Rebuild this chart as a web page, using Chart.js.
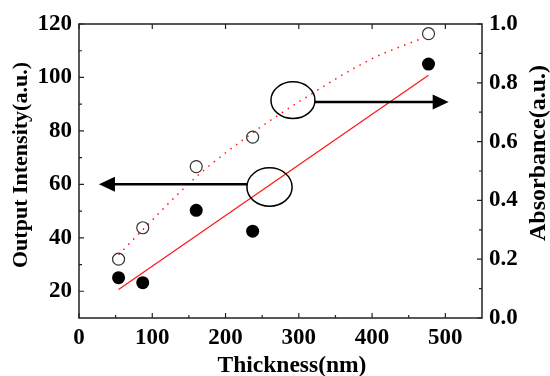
<!DOCTYPE html>
<html>
<head>
<meta charset="utf-8">
<script src="https://cdn.jsdelivr.net/npm/chart.js@4.4.1/dist/chart.umd.min.js"></script>
<style>
  html, body { margin: 0; padding: 0; background: #fff; }
  #wrap { width: 550px; height: 376px; }
</style>
</head>
<body>
<div id="wrap"><canvas id="thickness_chart"></canvas></div>
<script>
// measured points
const thickness = [54, 87, 160, 237, 477];
const output_intensity = [25.1, 23.2, 50.3, 42.5, 105];
const absorbance = [0.20, 0.307, 0.515, 0.615, 0.967];

// fit lines
const intensity_fit_x = [54, 477];
const intensity_fit_y = [20.7, 100.8];
const absorbance_fit_x = [54, 87, 160, 237, 300, 400, 467];
const absorbance_fit_y = [0.215, 0.30, 0.48, 0.63, 0.735, 0.882, 0.95];

// tick labels
const x_ticks = [0, 100, 200, 300, 400, 500];
const left_ticks = [20, 40, 60, 80, 100, 120];
const right_ticks = [0, 0.2, 0.4, 0.6, 0.8, 1.0];

const font_family = "'Liberation Serif', 'Times New Roman', serif";

const pairs = (xs, ys) => xs.map((x, i) => ({x: x, y: ys[i]}));

const midpoints = arr => arr.slice(1).map((v, i) => (v + arr[i]) / 2);

const frame_plugin = {
  id: 'frame_plugin',
  afterDatasetsDraw(chart) {
    const ctx = chart.ctx;
    const a = chart.chartArea;
    const sx = chart.scales.x, sl = chart.scales.y, sr = chart.scales.y2;
    ctx.save();
    ctx.strokeStyle = '#222';
    ctx.lineWidth = 1.5;
    ctx.strokeRect(a.left, a.top, a.right - a.left, a.bottom - a.top);

    ctx.lineWidth = 1.2;
    ctx.beginPath();
    x_ticks.forEach(v => {
      const px = sx.getPixelForValue(v);
      ctx.moveTo(px, a.bottom); ctx.lineTo(px, a.bottom - 5);
      ctx.moveTo(px, a.top); ctx.lineTo(px, a.top + 5);
    });
    midpoints(x_ticks).forEach(v => {
      const px = sx.getPixelForValue(v);
      ctx.moveTo(px, a.bottom); ctx.lineTo(px, a.bottom - 3);
    });
    left_ticks.forEach(v => {
      const py = sl.getPixelForValue(v);
      ctx.moveTo(a.left, py); ctx.lineTo(a.left + 5, py);
    });
    midpoints(left_ticks).forEach(v => {
      const py = sl.getPixelForValue(v);
      ctx.moveTo(a.left, py); ctx.lineTo(a.left + 3, py);
    });
    right_ticks.forEach(v => {
      const py = sr.getPixelForValue(v);
      ctx.moveTo(a.right, py); ctx.lineTo(a.right - 5, py);
    });
    midpoints(right_ticks).forEach(v => {
      const py = sr.getPixelForValue(v);
      ctx.moveTo(a.right, py); ctx.lineTo(a.right - 3, py);
    });
    ctx.stroke();

    // annotation ellipses and arrows
    ctx.strokeStyle = '#000';
    ctx.fillStyle = '#000';
    ctx.lineWidth = 1.5;
    const e1x = sx.getPixelForValue(292), e1y = sr.getPixelForValue(0.741);
    ctx.beginPath();
    ctx.ellipse(e1x, e1y, 22, 18.3, 0, 0, Math.PI * 2);
    ctx.stroke();
    const e2x = sx.getPixelForValue(260), e2y = sl.getPixelForValue(59);
    ctx.beginPath();
    ctx.ellipse(e2x, e2y, 22.6, 19.2, 0, 0, Math.PI * 2);
    ctx.stroke();

    const arrow = (x0, x1, y) => {
      const dir = Math.sign(x1 - x0);
      ctx.lineWidth = 2.5;
      ctx.beginPath();
      ctx.moveTo(x0, y);
      ctx.lineTo(x1 - dir * 14, y);
      ctx.stroke();
      ctx.beginPath();
      ctx.moveTo(x1, y);
      ctx.lineTo(x1 - dir * 16, y - 7.5);
      ctx.lineTo(x1 - dir * 16, y + 7.5);
      ctx.closePath();
      ctx.fill();
    };
    arrow(sx.getPixelForValue(321.5), sx.getPixelForValue(504.5), sr.getPixelForValue(0.735));
    arrow(sx.getPixelForValue(229.6), sx.getPixelForValue(27.2), sl.getPixelForValue(60));

    // axis titles
    ctx.fillStyle = '#000';
    ctx.textAlign = 'center';
    ctx.textBaseline = 'alphabetic';
    ctx.font = 'bold 23.5px ' + font_family;
    ctx.fillText('Thickness(nm)', 292, 372);

    ctx.font = 'bold 22px ' + font_family;
    ctx.save();
    ctx.translate(26.7, 165);
    ctx.rotate(-Math.PI / 2);
    ctx.fillText('Output Intensity(a.u.)', 0, 0);
    ctx.restore();

    ctx.font = 'bold 24px ' + font_family;
    ctx.save();
    ctx.translate(544.5, 153);
    ctx.rotate(-Math.PI / 2);
    ctx.fillText('Absorbance(a.u.)', 0, 0);
    ctx.restore();

    ctx.restore();
  }
};

const tick_font = {family: font_family, size: 23, weight: 'bold'};

const thickness_config = {
  type: 'scatter',
  data: {
    datasets: [
      {
        data: pairs(intensity_fit_x, intensity_fit_y),
        yAxisID: 'y',
        showLine: true,
        borderColor: 'rgb(255, 20, 20)',
        borderWidth: 1.2,
        pointRadius: 0,
        order: 3
      },
      {
        data: pairs(absorbance_fit_x, absorbance_fit_y),
        yAxisID: 'y2',
        showLine: true,
        borderColor: 'rgb(255, 20, 20)',
        borderWidth: 1.5,
        borderDash: [1.5, 5.5],
        cubicInterpolationMode: 'monotone',
        pointRadius: 0,
        order: 3
      },
      {
        data: pairs(thickness, output_intensity),
        yAxisID: 'y',
        pointRadius: 6.5,
        pointBackgroundColor: '#000',
        pointBorderColor: '#000',
        pointBorderWidth: 0,
        order: 1
      },
      {
        data: pairs(thickness, absorbance),
        yAxisID: 'y2',
        pointRadius: 6,
        pointBackgroundColor: 'rgba(0,0,0,0)',
        pointBorderColor: '#333',
        pointBorderWidth: 1.2,
        order: 2
      }
    ]
  },
  options: {
    responsive: true,
    maintainAspectRatio: false,
    animation: false,
    layout: { padding: { top: 24, left: 0, right: 0, bottom: 0 } },
    plugins: {
      legend: { display: false },
      tooltip: { enabled: false }
    },
    scales: {
      x: {
        type: 'linear',
        min: 0,
        max: 550,
        grid: { display: false, drawTicks: false },
        border: { display: false },
        afterBuildTicks: s => { s.ticks = x_ticks.map(v => ({value: v})); },
        afterFit: s => { s.height = 58; },
        ticks: { font: tick_font, color: '#000', padding: 6, maxRotation: 0 }
      },
      y: {
        type: 'linear',
        position: 'left',
        min: 10,
        max: 120,
        grid: { display: false, drawTicks: false },
        border: { display: false },
        afterBuildTicks: s => { s.ticks = left_ticks.map(v => ({value: v})); },
        afterFit: s => { s.width = 79; },
        ticks: { font: tick_font, color: '#000', padding: 7 }
      },
      y2: {
        type: 'linear',
        position: 'right',
        min: 0,
        max: 1,
        grid: { display: false, drawTicks: false },
        border: { display: false },
        afterBuildTicks: s => { s.ticks = right_ticks.map(v => ({value: v})); },
        afterFit: s => { s.width = 68; },
        ticks: { font: tick_font, color: '#000', padding: 7, callback: v => v.toFixed(1) }
      }
    }
  },
  plugins: [frame_plugin]
};

const thickness_chart = new Chart(document.getElementById('thickness_chart'), thickness_config);
</script>
</body>
</html>
